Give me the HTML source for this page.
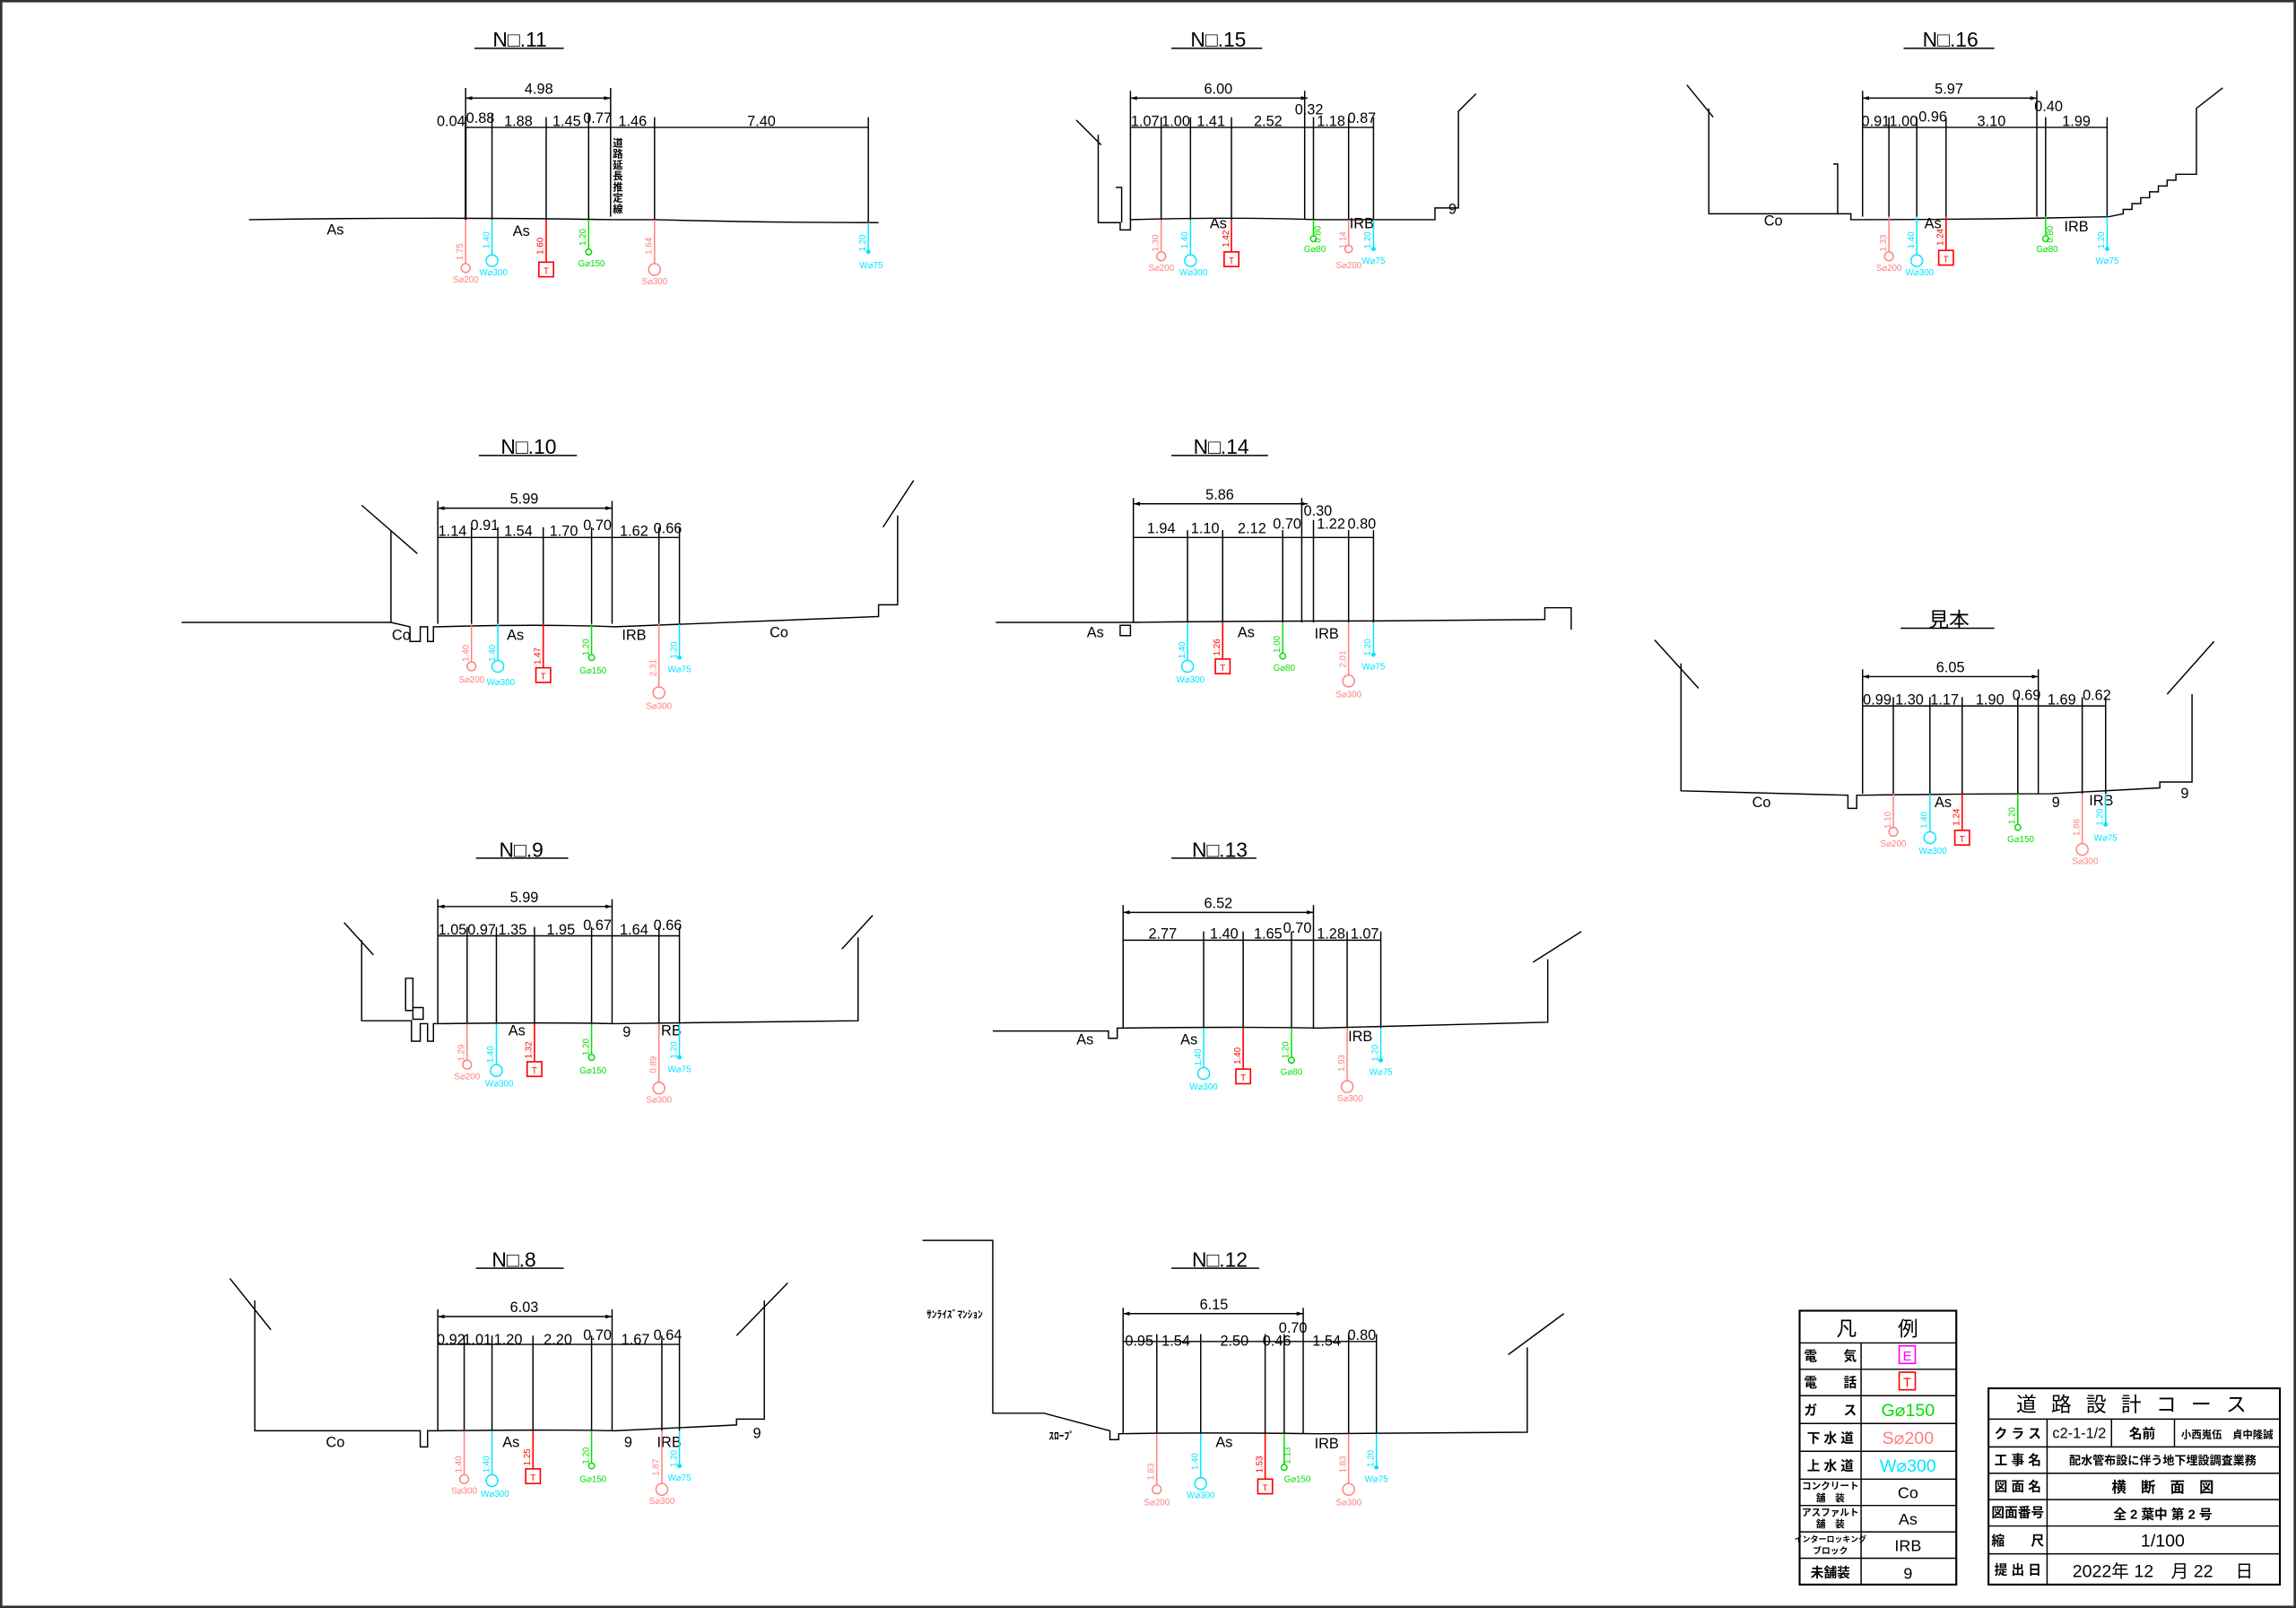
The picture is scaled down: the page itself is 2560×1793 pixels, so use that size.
<!DOCTYPE html>
<html><head><meta charset="utf-8"><style>
html,body{margin:0;padding:0;background:#fff}
svg{display:block}
text{font-family:"Liberation Sans Narrow","Liberation Sans","Noto Sans CJK JP",sans-serif;}
.k{stroke:#000;stroke-width:.9;fill:none}
.kt{stroke:#000;stroke-width:1.3;fill:none}
.d{font-size:10px;fill:#000;text-anchor:middle}
.t{font-size:14px;fill:#000;text-anchor:middle}
.g{font-size:9px;fill:#000;text-anchor:middle}
.ps{stroke:#ff7f7f;fill:none;stroke-width:.9}.pf{fill:#ff7f7f}
.ws{stroke:#00e5ff;fill:none;stroke-width:.9}.wf{fill:#00e5ff}
.rs{stroke:#ff0000;fill:none;stroke-width:1}.rf{fill:#ff0000}
.gs{stroke:#00dd00;fill:none;stroke-width:.9}.gf{fill:#00dd00}
.sm{font-size:6px;text-anchor:middle}
.lg{font-size:9px;fill:#000;text-anchor:middle;font-weight:bold}
</style></head><body>
<svg width="2560" height="1793" viewBox="0 0 1568 1098" preserveAspectRatio="none" xmlns="http://www.w3.org/2000/svg">
<defs><marker id="a" viewBox="0 0 10 10" refX="10" refY="5" markerWidth="5" markerHeight="5" orient="auto-start-reverse"><path d="M0,2 L10,5 L0,8z" fill="#000"/></marker></defs>
<rect x="0.8" y="0.8" width="1566.4" height="1096.4" fill="none" stroke="#333" stroke-width="1.6"/>

<!-- NO.11 -->
<text class="t" x="355" y="32">N□.11</text><line class="k" x1="324" y1="33" x2="385" y2="33"/>
<line class="k" x1="318" y1="67" x2="417" y2="67" marker-start="url(#a)" marker-end="url(#a)"/><text class="d" x="368" y="64">4.98</text>
<line class="k" x1="318" y1="87" x2="593" y2="87"/>
<path class="k" d="M318 60V150M336 78V150M373 80V150M402 78V150M417 60V148M447 80V150M593 80V152"/>
<path class="kt" d="M318 80V150"/>
<text class="d" x="308" y="86">0.04</text><text class="d" x="328" y="84">0.88</text><text class="d" x="354" y="86">1.88</text><text class="d" x="387" y="86">1.45</text><text class="d" x="408" y="84">0.77</text><text class="d" x="432" y="86">1.46</text><text class="d" x="520" y="86">7.40</text>
<text x="422" y="100" font-size="7" font-weight="bold" text-anchor="middle" font-family="Noto Sans CJK JP,sans-serif"><tspan x="422" dy="0">道</tspan><tspan x="422" dy="7.5">路</tspan><tspan x="422" dy="7.5">延</tspan><tspan x="422" dy="7.5">長</tspan><tspan x="422" dy="7.5">推</tspan><tspan x="422" dy="7.5">定</tspan><tspan x="422" dy="7.5">線</tspan></text>
<path class="k" d="M170 150 Q300 148 420 150 L447 150 Q520 152 600 152"/>
<text class="d" x="229" y="160">As</text><text class="d" x="356" y="161">As</text>
<g><line class="ps" x1="318" y1="150" x2="318" y2="180"/><circle class="ps" cx="318" cy="183" r="3"/><text class="sm pf" x="318" y="193">S⌀200</text><text class="sm pf" transform="translate(316,172) rotate(-90)">1.75</text></g>
<g><line class="ws" x1="336" y1="150" x2="336" y2="174"/><circle class="ws" cx="336" cy="178" r="4"/><text class="sm wf" x="337" y="188">W⌀300</text><text class="sm wf" transform="translate(334,164) rotate(-90)">1.40</text></g>
<g><line class="rs" x1="373" y1="150" x2="373" y2="179"/><rect class="rs" x="368" y="179" width="10" height="10"/><text class="sm rf" x="373" y="187" font-size="8">T</text><text class="sm rf" transform="translate(371,168) rotate(-90)">1.60</text></g>
<g><line class="gs" x1="402" y1="150" x2="402" y2="170"/><circle class="gs" cx="402" cy="172" r="2"/><text class="sm gf" x="404" y="182">G⌀150</text><text class="sm gf" transform="translate(400,162) rotate(-90)">1.20</text></g>
<g><line class="ps" x1="447" y1="150" x2="447" y2="180"/><circle class="ps" cx="447" cy="184" r="4"/><text class="sm pf" x="447" y="194">S⌀300</text><text class="sm pf" transform="translate(445,168) rotate(-90)">1.64</text></g>
<g><line class="ws" x1="593" y1="152" x2="593" y2="171"/><circle class="wf" cx="593" cy="172" r="1.5"/><text class="sm wf" x="595" y="183">W⌀75</text><text class="sm wf" transform="translate(591,166) rotate(-90)">1.20</text></g>

<!-- NO.15 -->
<text class="t" x="832" y="32">N□.15</text><line class="k" x1="800" y1="33" x2="862" y2="33"/>
<line class="k" x1="772" y1="67" x2="893" y2="67" marker-start="url(#a)" marker-end="url(#a)"/><text class="d" x="832" y="64">6.00</text>
<line class="k" x1="772" y1="87" x2="938" y2="87"/>
<path class="k" d="M772 62V150M793 80V150M813 80V150M841 80V150M891 62V150M897 80V150M921 80V150M938 80V150"/>
<text class="d" x="782" y="86">1.07</text><text class="d" x="803" y="86">1.00</text><text class="d" x="827" y="86">1.41</text><text class="d" x="866" y="86">2.52</text><text class="d" x="894" y="78">0.32</text><text class="d" x="909" y="86">1.18</text><text class="d" x="930" y="84">0.87</text>
<path class="k" d="M735 82L752 99M750 92V152L765 152V157H772V150Q840 148 900 150L980 150V142H996V76L1008 64M762 128H766V152"/>
<text class="d" x="832" y="156">As</text><text class="d" x="930" y="156">IRB</text><text class="d" x="992" y="146">9</text>
<g><line class="ps" x1="793" y1="150" x2="793" y2="172"/><circle class="ps" cx="793" cy="175" r="3"/><text class="sm pf" x="793" y="185">S⌀200</text><text class="sm pf" transform="translate(791,166) rotate(-90)">1.30</text></g>
<g><line class="ws" x1="813" y1="150" x2="813" y2="174"/><circle class="ws" cx="813" cy="178" r="4"/><text class="sm wf" x="815" y="188">W⌀300</text><text class="sm wf" transform="translate(811,164) rotate(-90)">1.40</text></g>
<g><line class="rs" x1="841" y1="150" x2="841" y2="172"/><rect class="rs" x="836" y="172" width="10" height="10"/><text class="sm rf" x="841" y="180" font-size="8">T</text><text class="sm rf" transform="translate(839,163) rotate(-90)">1.42</text></g>
<g><line class="gs" x1="897" y1="150" x2="897" y2="161"/><circle class="gs" cx="897" cy="163" r="2"/><text class="sm gf" x="898" y="172">G⌀80</text><text class="sm gf" transform="translate(902,160) rotate(-90)">0.80</text></g>
<g><line class="ps" x1="921" y1="150" x2="921" y2="168"/><circle class="ps" cx="921" cy="170" r="2.5"/><text class="sm pf" x="921" y="183">S⌀200</text><text class="sm pf" transform="translate(919,164) rotate(-90)">1.14</text></g>
<g><line class="ws" x1="938" y1="150" x2="938" y2="169"/><circle class="wf" cx="938" cy="170" r="1.5"/><text class="sm wf" x="938" y="180">W⌀75</text><text class="sm wf" transform="translate(936,164) rotate(-90)">1.20</text></g>

<!-- NO.16 -->
<text class="t" x="1332" y="32">N□.16</text><line class="k" x1="1300" y1="33" x2="1362" y2="33"/>
<line class="k" x1="1272" y1="67" x2="1391" y2="67" marker-start="url(#a)" marker-end="url(#a)"/><text class="d" x="1331" y="64">5.97</text>
<line class="k" x1="1272" y1="87" x2="1439" y2="87"/>
<path class="k" d="M1272 62V148M1290 80V148M1309 80V148M1329 80V148M1391 62V148M1397 80V148M1439 80V148"/>
<text class="d" x="1281" y="86">0.91</text><text class="d" x="1300" y="86">1.00</text><text class="d" x="1320" y="83">0.96</text><text class="d" x="1360" y="86">3.10</text><text class="d" x="1399" y="76">0.40</text><text class="d" x="1418" y="86">1.99</text>
<path class="k" d="M1152 58L1170 80M1167 74V146L1264 146V150Q1350 150 1440 148L1450 146V143H1456V139H1462V135H1468V131H1474V127H1480V123H1486V119H1500V74L1518 60M1252 112H1255V146"/>
<text class="d" x="1211" y="154">Co</text><text class="d" x="1320" y="156">As</text><text class="d" x="1418" y="158">IRB</text>
<g><line class="ps" x1="1290" y1="148" x2="1290" y2="172"/><circle class="ps" cx="1290" cy="175" r="3"/><text class="sm pf" x="1290" y="185">S⌀200</text><text class="sm pf" transform="translate(1288,166) rotate(-90)">1.33</text></g>
<g><line class="ws" x1="1309" y1="148" x2="1309" y2="174"/><circle class="ws" cx="1309" cy="178" r="4"/><text class="sm wf" x="1311" y="188">W⌀300</text><text class="sm wf" transform="translate(1307,164) rotate(-90)">1.40</text></g>
<g><line class="rs" x1="1329" y1="148" x2="1329" y2="171"/><rect class="rs" x="1324" y="171" width="10" height="10"/><text class="sm rf" x="1329" y="179" font-size="8">T</text><text class="sm rf" transform="translate(1327,162) rotate(-90)">1.24</text></g>
<g><line class="gs" x1="1397" y1="148" x2="1397" y2="161"/><circle class="gs" cx="1397" cy="163" r="2"/><text class="sm gf" x="1398" y="172">G⌀80</text><text class="sm gf" transform="translate(1402,160) rotate(-90)">0.80</text></g>
<g><line class="ws" x1="1439" y1="148" x2="1439" y2="169"/><circle class="wf" cx="1439" cy="170" r="1.5"/><text class="sm wf" x="1439" y="180">W⌀75</text><text class="sm wf" transform="translate(1437,164) rotate(-90)">1.20</text></g>

<!-- NO.10 -->
<text class="t" x="361" y="310">N□.10</text><line class="k" x1="327" y1="311" x2="394" y2="311"/>
<line class="k" x1="299" y1="347" x2="418" y2="347" marker-start="url(#a)" marker-end="url(#a)"/><text class="d" x="358" y="344">5.99</text>
<line class="k" x1="299" y1="367" x2="464" y2="367"/>
<path class="k" d="M299 342V426M322 360V426M340 360V426M371 360V426M404 360V426M418 342V426M450 360V426M464 360V426"/>
<text class="d" x="309" y="366">1.14</text><text class="d" x="331" y="362">0.91</text><text class="d" x="354" y="366">1.54</text><text class="d" x="385" y="366">1.70</text><text class="d" x="408" y="362">0.70</text><text class="d" x="433" y="366">1.62</text><text class="d" x="456" y="364">0.66</text>
<path class="k" d="M124 425H267L280 428V438H287V428H292V438H296V428H299Q370 426 420 428L600 421V413H613V352M247 345L285 378M267 362V425M603 360L624 328"/>
<text class="d" x="274" y="437">Co</text><text class="d" x="352" y="437">As</text><text class="d" x="433" y="437">IRB</text><text class="d" x="532" y="435">Co</text>
<g><line class="ps" x1="322" y1="426" x2="322" y2="452"/><circle class="ps" cx="322" cy="455" r="3"/><text class="sm pf" x="322" y="466">S⌀200</text><text class="sm pf" transform="translate(320,446) rotate(-90)">1.40</text></g>
<g><line class="ws" x1="340" y1="426" x2="340" y2="451"/><circle class="ws" cx="340" cy="455" r="4"/><text class="sm wf" x="342" y="468">W⌀300</text><text class="sm wf" transform="translate(338,446) rotate(-90)">1.40</text></g>
<g><line class="rs" x1="371" y1="426" x2="371" y2="456"/><rect class="rs" x="366" y="456" width="10" height="10"/><text class="sm rf" x="371" y="464" font-size="8">T</text><text class="sm rf" transform="translate(369,448) rotate(-90)">1.47</text></g>
<g><line class="gs" x1="404" y1="426" x2="404" y2="447"/><circle class="gs" cx="404" cy="449" r="2"/><text class="sm gf" x="405" y="460">G⌀150</text><text class="sm gf" transform="translate(402,442) rotate(-90)">1.20</text></g>
<g><line class="ps" x1="450" y1="426" x2="450" y2="469"/><circle class="ps" cx="450" cy="473" r="4"/><text class="sm pf" x="450" y="484">S⌀300</text><text class="sm pf" transform="translate(448,456) rotate(-90)">2.31</text></g>
<g><line class="ws" x1="464" y1="426" x2="464" y2="448"/><circle class="wf" cx="464" cy="449" r="1.5"/><text class="sm wf" x="464" y="459">W⌀75</text><text class="sm wf" transform="translate(462,444) rotate(-90)">1.20</text></g>

<!-- NO.14 -->
<text class="t" x="834" y="310">N□.14</text><line class="k" x1="800" y1="311" x2="866" y2="311"/>
<line class="k" x1="774" y1="344" x2="893" y2="344" marker-start="url(#a)" marker-end="url(#a)"/><text class="d" x="833" y="341">5.86</text>
<line class="k" x1="774" y1="367" x2="938" y2="367"/>
<path class="k" d="M774 340V425M811 362V425M835 362V425M876 362V425M889 340V425M897 355V425M921 362V425M938 362V425"/>
<text class="d" x="793" y="364">1.94</text><text class="d" x="823" y="364">1.10</text><text class="d" x="855" y="364">2.12</text><text class="d" x="879" y="361">0.70</text><text class="d" x="900" y="352">0.30</text><text class="d" x="909" y="361">1.22</text><text class="d" x="930" y="361">0.80</text>
<path class="k" d="M680 425H774Q850 424 940 424L1055 423V415H1073V430M765 427h7v7h-7z"/>
<text class="d" x="748" y="435">As</text><text class="d" x="851" y="435">As</text><text class="d" x="906" y="436">IRB</text>
<g><line class="ws" x1="811" y1="425" x2="811" y2="451"/><circle class="ws" cx="811" cy="455" r="4"/><text class="sm wf" x="813" y="466">W⌀300</text><text class="sm wf" transform="translate(809,444) rotate(-90)">1.40</text></g>
<g><line class="rs" x1="835" y1="425" x2="835" y2="450"/><rect class="rs" x="830" y="450" width="10" height="10"/><text class="sm rf" x="835" y="458" font-size="8">T</text><text class="sm rf" transform="translate(833,442) rotate(-90)">1.26</text></g>
<g><line class="gs" x1="876" y1="425" x2="876" y2="446"/><circle class="gs" cx="876" cy="448" r="2"/><text class="sm gf" x="877" y="458">G⌀80</text><text class="sm gf" transform="translate(874,440) rotate(-90)">1.00</text></g>
<g><line class="ps" x1="921" y1="425" x2="921" y2="461"/><circle class="ps" cx="921" cy="465" r="4"/><text class="sm pf" x="921" y="476">S⌀300</text><text class="sm pf" transform="translate(919,450) rotate(-90)">2.01</text></g>
<g><line class="ws" x1="938" y1="425" x2="938" y2="446"/><circle class="wf" cx="938" cy="447" r="1.5"/><text class="sm wf" x="938" y="457">W⌀75</text><text class="sm wf" transform="translate(936,442) rotate(-90)">1.20</text></g>

<!-- 見本 -->
<text class="t" x="1331" y="428" font-family="Liberation Sans,Noto Sans CJK JP,sans-serif">見本</text><line class="k" x1="1298" y1="429" x2="1362" y2="429"/>
<line class="k" x1="1272" y1="462" x2="1392" y2="462" marker-start="url(#a)" marker-end="url(#a)"/><text class="d" x="1332" y="459">6.05</text>
<line class="k" x1="1272" y1="482" x2="1438" y2="482"/>
<path class="k" d="M1272 457V542M1293 476V542M1318 476V542M1340 476V542M1378 476V542M1392 457V542M1422 476V542M1438 476V542"/>
<text class="d" x="1282" y="481">0.99</text><text class="d" x="1304" y="481">1.30</text><text class="d" x="1328" y="481">1.17</text><text class="d" x="1359" y="481">1.90</text><text class="d" x="1384" y="478">0.69</text><text class="d" x="1408" y="481">1.69</text><text class="d" x="1432" y="478">0.62</text>
<path class="k" d="M1130 437L1160 470M1148 453V540L1262 543V552H1268V543H1272Q1350 542 1400 542L1475 538V534H1497V474M1480 474L1512 438"/>
<text class="d" x="1203" y="551">Co</text><text class="d" x="1327" y="551">As</text><text class="d" x="1404" y="551">9</text><text class="d" x="1435" y="550">IRB</text><text class="d" x="1492" y="545">9</text>
<g><line class="ps" x1="1293" y1="542" x2="1293" y2="565"/><circle class="ps" cx="1293" cy="568" r="3"/><text class="sm pf" x="1293" y="578">S⌀200</text><text class="sm pf" transform="translate(1291,560) rotate(-90)">1.10</text></g>
<g><line class="ws" x1="1318" y1="542" x2="1318" y2="568"/><circle class="ws" cx="1318" cy="572" r="4"/><text class="sm wf" x="1320" y="583">W⌀300</text><text class="sm wf" transform="translate(1316,560) rotate(-90)">1.40</text></g>
<g><line class="rs" x1="1340" y1="542" x2="1340" y2="567"/><rect class="rs" x="1335" y="567" width="10" height="10"/><text class="sm rf" x="1340" y="575" font-size="8">T</text><text class="sm rf" transform="translate(1338,558) rotate(-90)">1.24</text></g>
<g><line class="gs" x1="1378" y1="542" x2="1378" y2="563"/><circle class="gs" cx="1378" cy="565" r="2"/><text class="sm gf" x="1380" y="575">G⌀150</text><text class="sm gf" transform="translate(1376,557) rotate(-90)">1.20</text></g>
<g><line class="ps" x1="1422" y1="542" x2="1422" y2="576"/><circle class="ps" cx="1422" cy="580" r="4"/><text class="sm pf" x="1424" y="590">S⌀300</text><text class="sm pf" transform="translate(1420,565) rotate(-90)">1.86</text></g>
<g><line class="ws" x1="1438" y1="542" x2="1438" y2="562"/><circle class="wf" cx="1438" cy="563" r="1.5"/><text class="sm wf" x="1438" y="574">W⌀75</text><text class="sm wf" transform="translate(1436,558) rotate(-90)">1.20</text></g>

<!-- NO.9 -->
<text class="t" x="356" y="585">N□.9</text><line class="k" x1="325" y1="586" x2="388" y2="586"/>
<line class="k" x1="299" y1="619" x2="418" y2="619" marker-start="url(#a)" marker-end="url(#a)"/><text class="d" x="358" y="616">5.99</text>
<line class="k" x1="299" y1="639" x2="464" y2="639"/>
<path class="k" d="M299 614V699M319 633V699M339 633V699M365 633V699M404 633V699M418 614V699M450 633V699M464 633V699"/>
<text class="d" x="309" y="638">1.05</text><text class="d" x="329" y="638">0.97</text><text class="d" x="350" y="638">1.35</text><text class="d" x="383" y="638">1.95</text><text class="d" x="408" y="635">0.67</text><text class="d" x="433" y="638">1.64</text><text class="d" x="456" y="635">0.66</text>
<path class="k" d="M235 630L255 652M247 642V697H281V711H287V699H292V711H296V699H299Q380 698 420 699L586 697V640M575 648L596 625M277 668h5v22h-5zM282 688h7v8h-7z"/>
<text class="d" x="353" y="707">As</text><text class="d" x="428" y="708">9</text><text class="d" x="457" y="707">IRB</text>
<g><line class="ps" x1="319" y1="699" x2="319" y2="724"/><circle class="ps" cx="319" cy="727" r="3"/><text class="sm pf" x="319" y="737">S⌀200</text><text class="sm pf" transform="translate(317,719) rotate(-90)">1.29</text></g>
<g><line class="ws" x1="339" y1="699" x2="339" y2="727"/><circle class="ws" cx="339" cy="731" r="4"/><text class="sm wf" x="341" y="742">W⌀300</text><text class="sm wf" transform="translate(337,720) rotate(-90)">1.40</text></g>
<g><line class="rs" x1="365" y1="699" x2="365" y2="725"/><rect class="rs" x="360" y="725" width="10" height="10"/><text class="sm rf" x="365" y="733" font-size="8">T</text><text class="sm rf" transform="translate(363,717) rotate(-90)">1.32</text></g>
<g><line class="gs" x1="404" y1="699" x2="404" y2="720"/><circle class="gs" cx="404" cy="722" r="2"/><text class="sm gf" x="405" y="733">G⌀150</text><text class="sm gf" transform="translate(402,715) rotate(-90)">1.20</text></g>
<g><line class="ps" x1="450" y1="699" x2="450" y2="739"/><circle class="ps" cx="450" cy="743" r="4"/><text class="sm pf" x="450" y="753">S⌀300</text><text class="sm pf" transform="translate(448,727) rotate(-90)">0.89</text></g>
<g><line class="ws" x1="464" y1="699" x2="464" y2="721"/><circle class="wf" cx="464" cy="722" r="1.5"/><text class="sm wf" x="464" y="732">W⌀75</text><text class="sm wf" transform="translate(462,717) rotate(-90)">1.20</text></g>

<!-- NO.13 -->
<text class="t" x="833" y="585">N□.13</text><line class="k" x1="800" y1="586" x2="858" y2="586"/>
<line class="k" x1="767" y1="623" x2="897" y2="623" marker-start="url(#a)" marker-end="url(#a)"/><text class="d" x="832" y="620">6.52</text>
<line class="k" x1="767" y1="642" x2="943" y2="642"/>
<path class="k" d="M767 618V702M822 636V702M849 636V702M882 636V702M897 618V702M920 636V702M943 636V702"/>
<text class="d" x="794" y="641">2.77</text><text class="d" x="836" y="641">1.40</text><text class="d" x="866" y="641">1.65</text><text class="d" x="886" y="637">0.70</text><text class="d" x="909" y="641">1.28</text><text class="d" x="932" y="641">1.07</text>
<path class="k" d="M678 704H757V709H763V702H767Q850 701 900 702L1057 698V655M1047 657L1080 636"/>
<text class="d" x="741" y="713">As</text><text class="d" x="812" y="713">As</text><text class="d" x="929" y="711">IRB</text>
<g><line class="ws" x1="822" y1="702" x2="822" y2="729"/><circle class="ws" cx="822" cy="733" r="4"/><text class="sm wf" x="822" y="744">W⌀300</text><text class="sm wf" transform="translate(820,722) rotate(-90)">1.40</text></g>
<g><line class="rs" x1="849" y1="702" x2="849" y2="730"/><rect class="rs" x="844" y="730" width="10" height="10"/><text class="sm rf" x="849" y="738" font-size="8">T</text><text class="sm rf" transform="translate(847,721) rotate(-90)">1.40</text></g>
<g><line class="gs" x1="882" y1="702" x2="882" y2="722"/><circle class="gs" cx="882" cy="724" r="2"/><text class="sm gf" x="882" y="734">G⌀80</text><text class="sm gf" transform="translate(880,717) rotate(-90)">1.20</text></g>
<g><line class="ps" x1="920" y1="702" x2="920" y2="738"/><circle class="ps" cx="920" cy="742" r="4"/><text class="sm pf" x="922" y="752">S⌀300</text><text class="sm pf" transform="translate(918,726) rotate(-90)">1.93</text></g>
<g><line class="ws" x1="943" y1="702" x2="943" y2="723"/><circle class="wf" cx="943" cy="724" r="1.5"/><text class="sm wf" x="943" y="734">W⌀75</text><text class="sm wf" transform="translate(941,719) rotate(-90)">1.20</text></g>

<!-- NO.8 -->
<text class="t" x="351" y="865">N□.8</text><line class="k" x1="325" y1="866" x2="385" y2="866"/>
<line class="k" x1="299" y1="899" x2="418" y2="899" marker-start="url(#a)" marker-end="url(#a)"/><text class="d" x="358" y="896">6.03</text>
<line class="k" x1="299" y1="918" x2="464" y2="918"/>
<path class="k" d="M299 894V977M317 912V977M336 912V977M364 912V977M404 912V977M418 894V977M452 912V977M464 912V977"/>
<text class="d" x="308" y="918">0.92</text><text class="d" x="326" y="918">1.01</text><text class="d" x="347" y="918">1.20</text><text class="d" x="381" y="918">2.20</text><text class="d" x="408" y="915">0.70</text><text class="d" x="434" y="918">1.67</text><text class="d" x="456" y="915">0.64</text>
<path class="k" d="M157 873L185 908M174 888V977H287V988H292V977H299Q380 976 420 977L503 973V969H522V888M503 912L538 876"/>
<text class="d" x="229" y="988">Co</text><text class="d" x="349" y="988">As</text><text class="d" x="429" y="988">9</text><text class="d" x="457" y="988">IRB</text><text class="d" x="517" y="982">9</text>
<g><line class="ps" x1="317" y1="977" x2="317" y2="1007"/><circle class="ps" cx="317" cy="1010" r="3"/><text class="sm pf" x="317" y="1020">S⌀300</text><text class="sm pf" transform="translate(315,1000) rotate(-90)">1.40</text></g>
<g><line class="ws" x1="336" y1="977" x2="336" y2="1007"/><circle class="ws" cx="336" cy="1011" r="4"/><text class="sm wf" x="338" y="1022">W⌀300</text><text class="sm wf" transform="translate(334,1000) rotate(-90)">1.40</text></g>
<g><line class="rs" x1="364" y1="977" x2="364" y2="1003"/><rect class="rs" x="359" y="1003" width="10" height="10"/><text class="sm rf" x="364" y="1011" font-size="8">T</text><text class="sm rf" transform="translate(362,995) rotate(-90)">1.25</text></g>
<g><line class="gs" x1="404" y1="977" x2="404" y2="999"/><circle class="gs" cx="404" cy="1001" r="2"/><text class="sm gf" x="405" y="1012">G⌀150</text><text class="sm gf" transform="translate(402,994) rotate(-90)">1.20</text></g>
<g><line class="ps" x1="452" y1="977" x2="452" y2="1013"/><circle class="ps" cx="452" cy="1017" r="4"/><text class="sm pf" x="452" y="1027">S⌀300</text><text class="sm pf" transform="translate(450,1002) rotate(-90)">1.87</text></g>
<g><line class="ws" x1="464" y1="977" x2="464" y2="1000"/><circle class="wf" cx="464" cy="1001" r="1.5"/><text class="sm wf" x="464" y="1011">W⌀75</text><text class="sm wf" transform="translate(462,996) rotate(-90)">1.20</text></g>

<!-- NO.12 -->
<text class="t" x="833" y="865">N□.12</text><line class="k" x1="800" y1="866" x2="860" y2="866"/>
<line class="k" x1="767" y1="897" x2="890" y2="897" marker-start="url(#a)" marker-end="url(#a)"/><text class="d" x="829" y="894">6.15</text>
<line class="k" x1="767" y1="916" x2="940" y2="916"/>
<path class="k" d="M767 893V979M790 911V979M820 911V979M864 911V979M877 911V979M890 893V979M921 911V979M940 911V979"/>
<text class="d" x="778" y="919">0.95</text><text class="d" x="803" y="919">1.54</text><text class="d" x="843" y="919">2.50</text><text class="d" x="872" y="919">0.46</text><text class="d" x="883" y="910">0.70</text><text class="d" x="906" y="919">1.54</text><text class="d" x="930" y="915">0.80</text>
<path class="k" d="M630 847H678V965H713L758 977V983H764V979H767Q820 978 900 979L1043 978V920M1030 925L1068 897"/>
<text x="652" y="900" font-size="7" text-anchor="middle" font-weight="bold">ｻﾝﾗｲｽﾞﾏﾝｼｮﾝ</text>
<text x="725" y="983" font-size="7" text-anchor="middle" font-weight="bold">ｽﾛｰﾌﾟ</text>
<text class="d" x="836" y="988">As</text><text class="d" x="906" y="989">IRB</text>
<g><line class="ps" x1="790" y1="979" x2="790" y2="1014"/><circle class="ps" cx="790" cy="1017" r="3"/><text class="sm pf" x="790" y="1028">S⌀200</text><text class="sm pf" transform="translate(788,1005) rotate(-90)">1.83</text></g>
<g><line class="ws" x1="820" y1="979" x2="820" y2="1009"/><circle class="ws" cx="820" cy="1013" r="4"/><text class="sm wf" x="820" y="1023">W⌀300</text><text class="sm wf" transform="translate(818,998) rotate(-90)">1.40</text></g>
<g><line class="rs" x1="864" y1="979" x2="864" y2="1010"/><rect class="rs" x="859" y="1010" width="10" height="10"/><text class="sm rf" x="864" y="1018" font-size="8">T</text><text class="sm rf" transform="translate(862,1000) rotate(-90)">1.53</text></g>
<g><line class="gs" x1="877" y1="979" x2="877" y2="1000"/><circle class="gs" cx="877" cy="1002" r="2"/><text class="sm gf" x="886" y="1012">G⌀150</text><text class="sm gf" transform="translate(881,994) rotate(-90)">1.13</text></g>
<g><line class="ps" x1="921" y1="979" x2="921" y2="1013"/><circle class="ps" cx="921" cy="1017" r="4"/><text class="sm pf" x="921" y="1028">S⌀300</text><text class="sm pf" transform="translate(919,1000) rotate(-90)">1.83</text></g>
<g><line class="ws" x1="940" y1="979" x2="940" y2="1001"/><circle class="wf" cx="940" cy="1002" r="1.5"/><text class="sm wf" x="940" y="1012">W⌀75</text><text class="sm wf" transform="translate(938,996) rotate(-90)">1.20</text></g>

<!-- Legend -->
<g font-family="Liberation Sans,Noto Sans CJK JP,sans-serif">
<rect class="kt" x="1229" y="895" width="107" height="187"/>
<path class="k" d="M1229 917H1336M1229 935H1336M1229 953H1336M1229 972H1336M1229 991H1336M1229 1010H1336M1229 1028H1336M1229 1046H1336M1229 1064H1336M1271 917V1082"/>
<text x="1282" y="912" font-size="14" text-anchor="middle" font-family="Noto Sans CJK JP,sans-serif">凡　　例</text>
<text class="lg" x="1250" y="929">電　　気</text><text class="lg" x="1250" y="947">電　　話</text><text class="lg" x="1250" y="966">ガ　　ス</text><text class="lg" x="1250" y="985">下 水 道</text><text class="lg" x="1250" y="1004">上 水 道</text>
<text x="1250" y="1017" font-size="6.5" text-anchor="middle" font-weight="bold">コンクリート</text><text x="1250" y="1025" font-size="6.5" text-anchor="middle" font-weight="bold">舗　装</text>
<text x="1250" y="1035" font-size="6.5" text-anchor="middle" font-weight="bold">アスファルト</text><text x="1250" y="1043" font-size="6.5" text-anchor="middle" font-weight="bold">舗　装</text>
<text x="1250" y="1053" font-size="5.5" text-anchor="middle" font-weight="bold">インターロッキング</text><text x="1250" y="1061" font-size="6" text-anchor="middle" font-weight="bold">ブロック</text>
<text class="lg" x="1250" y="1077">未舗装</text>
<rect x="1297" y="919" width="11" height="12" fill="none" stroke="#ff00ff"/><text x="1302.5" y="929" font-size="9" fill="#ff00ff" text-anchor="middle">E</text>
<rect x="1297" y="937" width="11" height="12" fill="none" stroke="#f00"/><text x="1302.5" y="947" font-size="9" fill="#f00" text-anchor="middle">T</text>
<text x="1303" y="967" font-size="12" fill="#00dd00" text-anchor="middle">G⌀150</text>
<text x="1303" y="986" font-size="12" fill="#ff7f7f" text-anchor="middle">S⌀200</text>
<text x="1303" y="1005" font-size="12" fill="#00e5ff" text-anchor="middle">W⌀300</text>
<text x="1303" y="1023" font-size="11" text-anchor="middle">Co</text><text x="1303" y="1041" font-size="11" text-anchor="middle">As</text><text x="1303" y="1059" font-size="11" text-anchor="middle">IRB</text><text x="1303" y="1078" font-size="11" text-anchor="middle">9</text>

<!-- Title block -->
<rect class="kt" x="1358" y="948" width="199" height="134"/>
<path class="k" d="M1358 969H1557M1358 988H1557M1358 1006H1557M1358 1024H1557M1358 1042H1557M1358 1061H1557M1398 969V1082M1442 969V988M1485 969V988"/>
<text x="1457" y="964" font-size="14" text-anchor="middle" letter-spacing="3" font-family="Noto Sans CJK JP,sans-serif">道 路 設 計 コ ー ス</text>
<text class="lg" x="1378" y="982">ク ラ ス</text><text x="1420" y="982" font-size="10" text-anchor="middle">c2-1-1/2</text><text class="lg" x="1463" y="982">名前</text><text x="1521" y="982" font-size="7" text-anchor="middle" font-weight="bold">小西嵬伍　貞中隆誠</text>
<text class="lg" x="1378" y="1000">工 事 名</text><text x="1477" y="1000" font-size="8" text-anchor="middle" font-weight="bold">配水管布設に伴う地下埋設調査業務</text>
<text class="lg" x="1378" y="1018">図 面 名</text><text x="1477" y="1019" font-size="10" text-anchor="middle" font-weight="bold">横　断　面　図</text>
<text class="lg" x="1378" y="1036">図面番号</text><text x="1477" y="1037" font-size="9" text-anchor="middle" font-weight="bold">全 2 葉中 第 2 号</text>
<text class="lg" x="1378" y="1055">縮　　尺</text><text x="1477" y="1056" font-size="12" text-anchor="middle">1/100</text>
<text class="lg" x="1378" y="1075">提 出 日</text><text x="1477" y="1077" font-size="12" text-anchor="middle">2022年 12　月 22　 日</text>
</g>
</svg>
</body></html>
